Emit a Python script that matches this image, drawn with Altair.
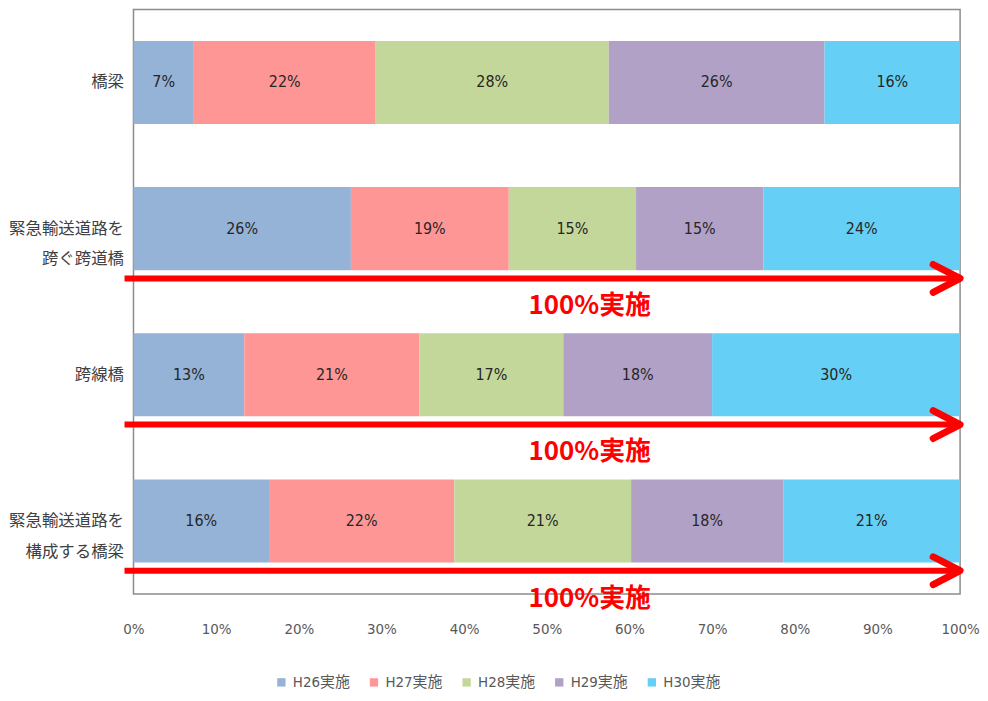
import altair as alt
import pandas as pd

categories = ["橋梁", "緊急輸送道路を\n跨ぐ跨道橋", "跨線橋", "緊急輸送道路を\n構成する橋梁"]
series = ["H26実施", "H27実施", "H28実施", "H29実施", "H30実施"]
h26 = [7.3, 26.3, 13.4, 16.4]
h27 = [22.0, 19.1, 21.2, 22.4]
h28 = [28.2, 15.4, 17.4, 21.4]
h29 = [26.1, 15.4, 18.0, 18.4]
h30 = [16.4, 23.8, 30.0, 21.4]
series_values = [h26, h27, h28, h29, h30]
colors = ["#95B3D7", "#FF9696", "#C4D79B", "#B2A1C7", "#66CFF5"]
arrow_categories = [categories[1], categories[2], categories[3]]
arrow_label = "100%実施"
tick_values = [0, 0.1, 0.2, 0.3, 0.4, 0.5, 0.6, 0.7, 0.8, 0.9, 1.0]

rows = []
for i, c in enumerate(categories):
    total = sum(s[i] for s in series_values)
    start = 0.0
    for j, s in enumerate(series):
        v = series_values[j][i] / total
        rows.append(dict(category=c, series=s, order=j, x0=start, x1=start + v,
                         mid=start + v / 2, value=v))
        start += v
df = pd.DataFrame(rows)
arrows = pd.DataFrame({"category": arrow_categories,
                       "tip": [1.0] * len(arrow_categories),
                       "label": [arrow_label] * len(arrow_categories)})

NARROW = "'Liberation Sans Narrow', 'DejaVu Sans Condensed', 'Noto Sans CJK JP', sans-serif"
JP = "Noto Sans CJK JP"

y_enc = alt.Y("category:N", sort=categories, title=None,
              scale=alt.Scale(paddingInner=0.432, paddingOuter=0.216),
              axis=alt.Axis(domain=False, ticks=False, labelFont=JP, labelFontSize=16.5,
                            labelColor="#404040", labelLineHeight=31, labelPadding=10,
                            labelExpr="split(datum.value, '\\n')", labelLimit=300))
y_plain = alt.Y("category:N", sort=categories)

x_scale = alt.Scale(domain=[0, 1], nice=False, zero=True)

bars = alt.Chart(df).mark_bar().encode(
    y=y_enc,
    x=alt.X("x0:Q", scale=x_scale, title=None,
            axis=alt.Axis(values=tick_values, format=".0%", grid=False, domain=False,
                          ticks=False, labelFont=NARROW, labelFontSize=15,
                          labelColor="#595959", labelPadding=28, labelFlush=False)),
    x2="x1:Q",
    color=alt.Color("series:N", scale=alt.Scale(domain=series, range=colors),
                    legend=alt.Legend(title=None, orient="none", direction="horizontal",
                                      legendX=141, legendY=668,
                                      symbolType="square", symbolSize=70,
                                      labelFont=NARROW, labelFontSize=15,
                                      labelColor="#595959", columnPadding=16)),
)

bar_text = alt.Chart(df).mark_text(font=NARROW, fontSize=16, color="#262626").encode(
    y=y_plain,
    x=alt.X("mid:Q", scale=x_scale),
    text=alt.Text("value:Q", format=".0%"),
)

arrow_line = alt.Chart(arrows).mark_rule(color="#FF0000", strokeWidth=6, yOffset=50).encode(
    y=y_plain,
    x=alt.X("tip:Q", scale=x_scale),
    x2=alt.value(-9),
)

arrow_head = alt.Chart(arrows).mark_point(
    shape="M -1.93 -1 L 0 0 L -1.93 1", filled=False, size=784, strokeWidth=7,
    color="#FF0000", opacity=1, yOffset=50, strokeCap="round", strokeJoin="round"
).encode(
    y=y_plain,
    x=alt.X("tip:Q", scale=x_scale),
)

arrow_text = alt.Chart(arrows).mark_text(
    yOffset=78, color="#FF0000", fontSize=26, fontWeight="bold", font=JP
).encode(
    y=y_plain,
    x=alt.datum(0.552),
    text="label:N",
)

chart = alt.layer(bars, bar_text, arrow_line, arrow_head, arrow_text).properties(
    width=830, height=587,
    padding={"left": 0, "top": 0, "right": 0, "bottom": 0},
).configure_view(stroke="#8c8c8c", strokeWidth=1.5)

chart.save("out.html", embed_options={"renderer": "svg", "actions": False})
